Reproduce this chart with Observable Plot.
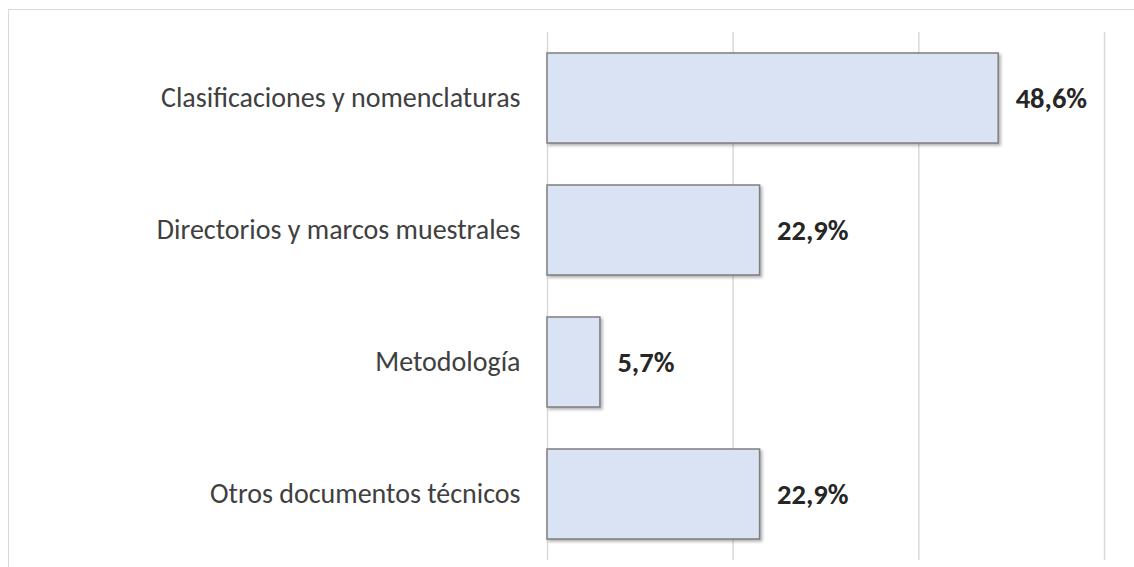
<!DOCTYPE html>
<html>
<head>
<meta charset="utf-8">
<script src="https://cdn.jsdelivr.net/npm/d3@7"></script>
<script src="https://cdn.jsdelivr.net/npm/@observablehq/plot@0.6"></script>
<style>
  html, body { margin: 0; padding: 0; background: #fff; overflow: hidden; }
  #wrap { position: relative; width: 1134px; height: 567px; }
  #frame { position: absolute; left: 8px; top: 9px; width: 1200px; height: 700px;
           border-left: 1px solid #d9d9d9; border-top: 1px solid #d9d9d9; pointer-events: none; }
  #chart { position: absolute; left: 0; top: 0; }
  #chart rect.bar { filter: drop-shadow(2px 2px 1.5px rgba(0,0,0,0.3)); }
</style>
</head>
<body>
<div id="wrap"><div id="chart"></div><div id="frame"></div></div>
<script>
const categories = [
  "Clasificaciones y nomenclaturas",
  "Directorios y marcos muestrales",
  "Metodología",
  "Otros documentos técnicos"
];
const values = [48.6, 22.9, 5.7, 22.9];
const gridTicks = [0, 20, 40, 60];

const data = categories.map((c, i) => ({category: c, value: values[i]}));
const fmt = v => v.toFixed(1).replace(".", ",") + "%";

const chart = Plot.plot({
  width: 1134,
  height: 567,
  marginLeft: 547,
  marginRight: 30,
  marginTop: 32,
  marginBottom: 7,
  style: {fontFamily: "Carlito, Lato, sans-serif", background: "transparent"},
  x: {domain: [0, 60], axis: null},
  y: {domain: categories, paddingInner: 0.32, paddingOuter: 0.16, label: null},
  marks: [
    Plot.gridX(gridTicks, {stroke: "#d9d9d9", strokeOpacity: 1, strokeWidth: 1.5}),
    Plot.barX(data, {x: "value", y: "category", fill: "#dae3f3", stroke: "#7f7f7f", strokeWidth: 1.5}),
    Plot.axisY({tickSize: 0, tickPadding: 27, fontSize: 28, fill: "#404040", label: null}),
    Plot.text(data, {x: "value", y: "category", text: d => fmt(d.value), dx: 17, textAnchor: "start",
      fontSize: 28.5, fontWeight: "bold", fill: "#262626"})
  ]
});
chart.querySelectorAll("g[aria-label='bar'] rect").forEach(r => r.classList.add("bar"));
document.getElementById("chart").appendChild(chart);
</script>
</body>
</html>
